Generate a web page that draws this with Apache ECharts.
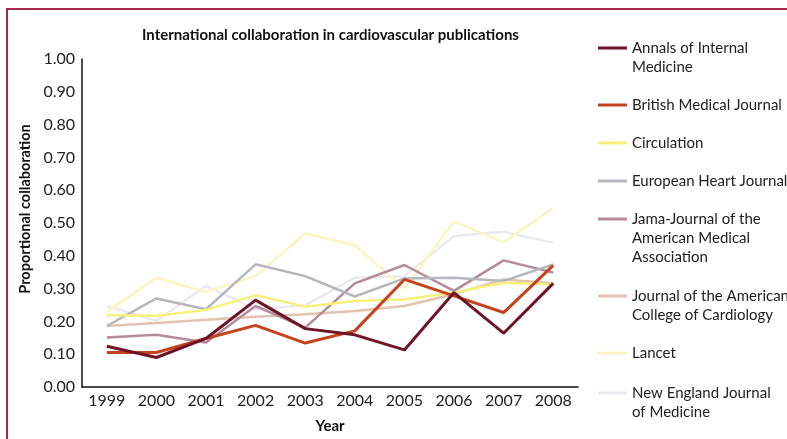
<!DOCTYPE html>
<html>
<head>
<meta charset="utf-8">
<script src="https://cdn.jsdelivr.net/npm/echarts@6/dist/echarts.min.js"></script>
<style>
  html, body { margin: 0; padding: 0; background: #fff; }
  #wrap { position: relative; width: 787px; height: 439px; overflow: hidden; }
  #frame { position: absolute; left: 6px; top: 8px; width: 800px; height: 450px;
           border-left: 2px solid #a8284c; border-top: 2px solid #a8284c; }
  #chart { position: absolute; left: 0; top: 0; width: 787px; height: 439px; }
</style>
</head>
<body>
<div id="wrap">
  <div id="frame"></div>
  <div id="chart"></div>
</div>
<script>
var years = ['1999', '2000', '2001', '2002', '2003', '2004', '2005', '2006', '2007', '2008'];

var annals      = [0.124, 0.090, 0.148, 0.265, 0.178, 0.159, 0.113, 0.288, 0.164, 0.316];
var bmj         = [0.105, 0.105, 0.148, 0.188, 0.134, 0.171, 0.328, 0.278, 0.227, 0.371];
var circulation = [0.219, 0.217, 0.235, 0.280, 0.245, 0.262, 0.267, 0.288, 0.318, 0.313];
var ehj         = [0.186, 0.270, 0.237, 0.374, 0.338, 0.276, 0.331, 0.333, 0.323, 0.374];
var jama        = [0.151, 0.159, 0.136, 0.247, 0.181, 0.316, 0.372, 0.293, 0.386, 0.349];
var jacc        = [0.186, 0.195, 0.205, 0.214, 0.222, 0.232, 0.247, 0.283, 0.328, 0.316];
var lancet      = [0.229, 0.333, 0.290, 0.338, 0.468, 0.432, 0.300, 0.505, 0.441, 0.546];
var nejm        = [0.247, 0.202, 0.308, 0.237, 0.249, 0.333, 0.338, 0.460, 0.473, 0.440];

var names = ['Annals of Internal Medicine', 'British Medical Journal', 'Circulation',
  'European Heart Journal', 'Jama-Journal of the American Medical Association',
  'Journal of the American College of Cardiology', 'Lancet', 'New England Journal of Medicine'];
// legend text as it wraps in the picture
var legendText = {
  'Annals of Internal Medicine': 'Annals of Internal\nMedicine',
  'Jama-Journal of the American Medical Association': 'Jama-Journal of the\nAmerican Medical\nAssociation',
  'Journal of the American College of Cardiology': 'Journal of the American\nCollege of Cardiology',
  'New England Journal of Medicine': 'New England Journal\nof Medicine'
};
var values = [annals, bmj, circulation, ehj, jama, jacc, lancet, nejm];
var colors = ['#6e1426', '#c4431c', '#f8f07a', '#b4b7bd', '#b48b9b', '#e2c2b0', '#fcf5bf', '#ebe9f0'];
var widths = [3, 3, 2.5, 2.5, 2.5, 2.5, 2.5, 2.5];
// y of the first text line of each legend entry
var legendY = [48, 105, 143, 181, 219, 296, 353, 393];

var font = 'Lato';
var lh = 19;

var series = names.map(function (n, i) {
  return {
    name: n,
    type: 'line',
    data: values[i],
    symbol: 'none',
    color: colors[i],
    lineStyle: { width: widths[i], color: colors[i] },
    z: 10 - i
  };
});

// each entry is its own legend so the swatch sits on the first text line
var legends = names.map(function (n, i) {
  var txt = legendText[n] || n;
  var lines = txt.split('\n').length;
  var pre = new Array(lines).join('\n');   // blank lines above so line 1 is centred on the swatch
  return {
    data: [n],
    orient: 'vertical',
    left: 598,
    top: legendY[i] - (2 * lines - 1) * lh / 2,
    padding: 0,
    icon: 'rect',
    itemWidth: 29,
    itemHeight: 3,
    itemGap: 0,
    formatter: function () { return pre + txt; },
    textStyle: { fontFamily: font, fontSize: 15, color: '#222', lineHeight: lh }
  };
});

var option = {
  animation: false,
  title: {
    text: 'International collaboration in cardiovascular publications',
    left: 137,
    top: 23,
    textStyle: { fontFamily: font, fontSize: 15, fontWeight: 'bold', color: '#111' }
  },
  legend: legends,
  grid: { left: 82, right: 209, top: 59, bottom: 51, containLabel: false },
  xAxis: {
    type: 'category',
    data: years,
    boundaryGap: true,
    name: 'Year',
    nameLocation: 'middle',
    nameGap: 32,
    nameTextStyle: { fontFamily: font, fontSize: 15, fontWeight: 'bold', color: '#111' },
    axisLine: { lineStyle: { color: '#111', width: 1.5 } },
    axisTick: { show: false },
    axisLabel: { fontFamily: font, fontSize: 16, color: '#222', margin: 6 },
    splitLine: { show: false }
  },
  yAxis: {
    type: 'value',
    min: 0,
    max: 1,
    interval: 0.1,
    name: 'Proportional collaboration',
    nameLocation: 'middle',
    nameGap: 47,
    nameTextStyle: { fontFamily: font, fontSize: 14.5, fontWeight: 'bold', color: '#111',
                     padding: [0, 0, 0, 28] },
    axisLine: { show: true, lineStyle: { color: '#111', width: 1.5 } },
    axisTick: { show: false },
    axisLabel: { fontFamily: font, fontSize: 16, color: '#222', margin: 7,
                 formatter: function (v) { return v.toFixed(2); } },
    splitLine: { show: false }
  },
  series: series
};

var chart = echarts.init(document.getElementById('chart'));
chart.setOption(option);
</script>
</body>
</html>
